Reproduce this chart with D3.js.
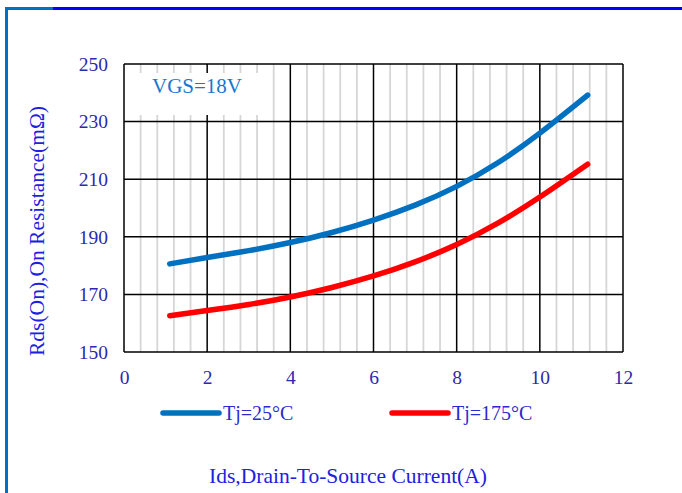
<!DOCTYPE html>
<html><head><meta charset="utf-8">
<script src="https://cdn.jsdelivr.net/npm/d3@7"></script>
<style>html,body{margin:0;padding:0;background:#fff;}svg{display:block;}</style>
</head><body>
<script>
const currents = [1.1, 2, 3, 4, 5, 6, 7, 8, 9, 10, 11.15];
const rds25 = [180.6, 182.8, 185.2, 188.0, 191.5, 195.8, 201.0, 207.5, 215.8, 226.0, 239.2];
const rds175 = [162.6, 164.4, 166.5, 169.1, 172.4, 176.4, 181.3, 187.3, 194.8, 203.8, 215.2];
const seriesNames = ["Tj=25°C", "Tj=175°C"];
const seriesColors = ["#0070C0", "#FF0000"];
const xTicks = [0, 2, 4, 6, 8, 10, 12];
const yTicks = [150, 170, 190, 210, 230, 250];
const annotation = "VGS=18V";
const xTitle = "Ids,Drain-To-Source Current(A)";
const yTitle = "Rds(On),On Resistance(mΩ)";

const W = 682, H = 493;
const svg = d3.select("body").append("svg").attr("width", W).attr("height", H);
const font = "'Liberation Serif','Times New Roman',serif";

// frame decoration
svg.append("line").attr("x1", 6.5).attr("x2", 6.5).attr("y1", 7).attr("y2", H).attr("stroke", "#0070C0").attr("stroke-width", 3);
svg.append("line").attr("x1", 5).attr("x2", 53).attr("y1", 8.5).attr("y2", 8.5).attr("stroke", "#0070C0").attr("stroke-width", 3);
svg.append("line").attr("x1", 53).attr("x2", W).attr("y1", 8.5).attr("y2", 8.5).attr("stroke", "#0000FF").attr("stroke-width", 3);

const x = d3.scaleLinear().domain([0, 12]).range([124, 623]);
const y = d3.scaleLinear().domain([150, 250]).range([352, 64]);

// minor vertical grid
const minor = d3.range(0, 12.001, 0.4).filter(v => Math.abs(v / 2 - Math.round(v / 2)) > 1e-6);
svg.append("g").selectAll("line").data(minor).join("line")
  .attr("x1", d => x(d)).attr("x2", d => x(d)).attr("y1", y(250)).attr("y2", y(150))
  .attr("stroke", "#d6d6d6").attr("stroke-width", 1.8);
// major vertical grid
svg.append("g").selectAll("line").data(xTicks).join("line")
  .attr("x1", d => x(d)).attr("x2", d => x(d)).attr("y1", y(250)).attr("y2", y(150))
  .attr("stroke", "#000").attr("stroke-width", 1.5);

// annotation box (covers grid)
svg.append("rect").attr("x", 127).attr("y", 73).attr("width", 145).attr("height", 42).attr("fill", "#fff");
svg.append("text").attr("x", 197).attr("y", 93).attr("text-anchor", "middle")
  .attr("font-family", font).attr("font-size", 21).attr("fill", "#1a75cf").text(annotation);

// horizontal grid
svg.append("g").selectAll("line").data(yTicks).join("line")
  .attr("x1", x(0)).attr("x2", x(12)).attr("y1", d => y(d)).attr("y2", d => y(d))
  .attr("stroke", "#000").attr("stroke-width", 1.5);

// axes labels
const xAxis = d3.axisBottom(x).tickValues(xTicks).tickSize(0).tickPadding(18);
const gx = svg.append("g").attr("transform", `translate(0,${y(150)})`).call(xAxis);
gx.select(".domain").remove();
gx.selectAll("text").attr("font-family", font).attr("font-size", 19.5).attr("fill", "#2a2ab0");

const yAxis = d3.axisLeft(y).tickValues(yTicks).tickSize(0).tickPadding(16);
const gy = svg.append("g").attr("transform", `translate(${x(0)},0)`).call(yAxis);
gy.select(".domain").remove();
gy.selectAll("text").attr("font-family", font).attr("font-size", 19.5).attr("fill", "#2a2ab0");

// curves
const line = d3.line().x(d => x(d[0])).y(d => y(d[1])).curve(d3.curveNatural);
[rds25, rds175].forEach((vals, i) => {
  svg.append("path").datum(currents.map((c, j) => [c, vals[j]]))
    .attr("d", line).attr("fill", "none").attr("stroke", seriesColors[i])
    .attr("stroke-width", 5.5).attr("stroke-linecap", "round");
});

// legend
const legX = [163, 392];
seriesNames.forEach((name, i) => {
  svg.append("line").attr("x1", legX[i]).attr("x2", legX[i] + 56).attr("y1", 413).attr("y2", 413)
    .attr("stroke", seriesColors[i]).attr("stroke-width", 5.5).attr("stroke-linecap", "round");
  svg.append("text").attr("x", legX[i] + 60).attr("y", 420).attr("font-family", font)
    .attr("font-size", 20).attr("fill", "#2a2ad0").text(name);
});

// axis titles
svg.append("text").attr("x", 348).attr("y", 483).attr("text-anchor", "middle")
  .attr("font-family", font).attr("font-size", 21.5).attr("fill", "#2020e0").text(xTitle);
svg.append("text").attr("transform", "translate(44,231) rotate(-90)").attr("text-anchor", "middle")
  .attr("font-family", font).attr("font-size", 21.5).attr("fill", "#2020e0").text(yTitle);
</script>
</body></html>
